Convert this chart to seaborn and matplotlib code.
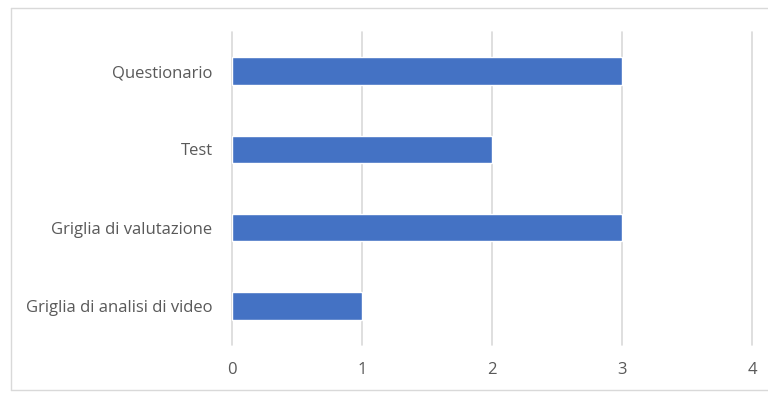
import matplotlib
matplotlib.use("Agg")
import matplotlib.pyplot as plt
import seaborn as sns
import pandas as pd
from matplotlib.lines import Line2D

categories = ["Questionario", "Test", "Griglia di valutazione", "Griglia di analisi di video"]
values = [3, 2, 3, 1]
xticks = [0, 1, 2, 3, 4]

df = pd.DataFrame({"cat": categories, "val": values})

sns.set_theme(style="white")
plt.rcParams['font.family'] = ['Open Sans', 'DejaVu Sans']

fig = plt.figure(figsize=(7.68, 3.94), dpi=100)
ax = fig.add_axes([232/768, 1-345/394, 520/768, 313/394])

sns.barplot(data=df, x="val", y="cat", color="#4472C4", saturation=1,
            width=0.35, ax=ax, orient="h")

ax.set_xlim(0, 4)
ax.set_ylim(3.5, -0.5)
ax.set_xticks(xticks)
ax.set_xticklabels([str(t) for t in xticks])
ax.grid(axis="x", color="#d9d9d9", linewidth=1.2)
for gl in ax.get_xgridlines():
    gl.set_clip_on(False)
ax.set_axisbelow(True)
for s in ax.spines.values():
    s.set_visible(False)
ax.set_xlabel("")
ax.set_ylabel("")
ax.tick_params(axis="both", length=0, labelsize=12, colors="#595959")
ax.tick_params(axis="x", pad=12)
ax.tick_params(axis="y", pad=14)

# outer chart border
c = "#d9d9d9"
fig.add_artist(Line2D([11/768, 11/768], [1-390/394, 1-8/394], color=c, lw=1, transform=fig.transFigure))
fig.add_artist(Line2D([11/768, 1.01], [1-8/394, 1-8/394], color=c, lw=1, transform=fig.transFigure))
fig.add_artist(Line2D([11/768, 1.01], [1-390/394, 1-390/394], color=c, lw=1, transform=fig.transFigure))

fig.savefig("out.png", dpi=100)
